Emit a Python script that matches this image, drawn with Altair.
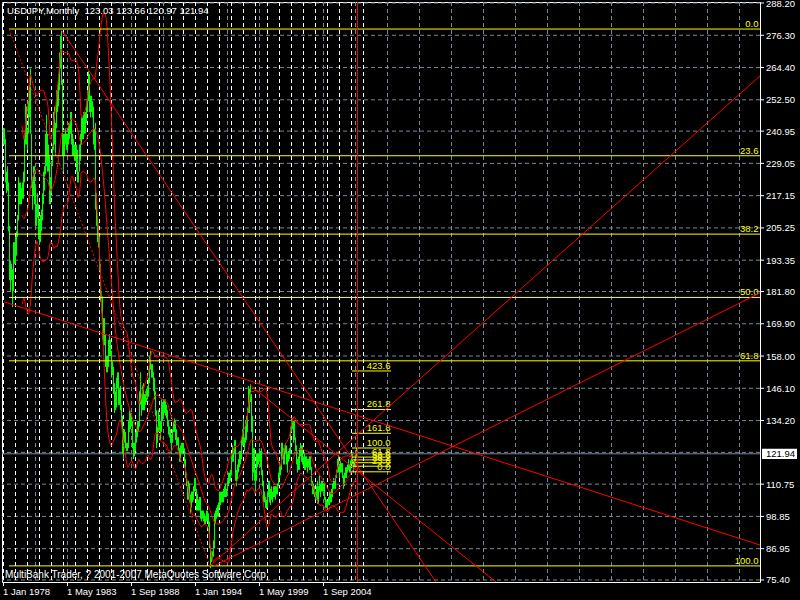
import altair as alt
import pandas as pd

# ---------------------------------------------------------------------------
# USDJPY monthly bars, Jan 1978 .. Jul 2007 (one value per month, by year)
# ---------------------------------------------------------------------------
high = [
    242, 242, 238, 226, 228, 222, 206, 193, 192, 190, 200, 200,          # 1978
    202, 204, 210, 224, 222, 222, 220, 222, 226, 240, 251, 250,          # 1979
    242, 252, 258, 264, 240, 224, 228, 228, 220, 214, 218, 214,          # 1980
    208, 210, 212, 218, 226, 228, 240, 247, 240, 236, 232, 224,          # 1981
    230, 236, 248, 250, 244, 256, 258, 262, 270, 276, 278, 260,          # 1982
    240, 240, 242, 240, 240, 244, 244, 248, 248, 240, 238, 236,          # 1983
    236, 236, 234, 226, 236, 240, 246, 246, 248, 248, 248, 252,          # 1984
    256, 263, 262, 254, 254, 252, 250, 242, 244, 218, 210, 206,          # 1985
    202, 192, 182, 180, 172, 172, 166, 158, 158, 164, 166, 164,          # 1986
    160, 156, 154, 148, 145, 150, 152, 152, 146, 147, 140, 136,          # 1987
    131, 131, 130, 126, 126, 134, 138, 137, 137, 134, 126, 126,          # 1988
    130, 131, 134, 134, 145, 152, 144, 147, 148, 144, 145, 146,          # 1989
    147, 150, 158, 160, 155, 155, 152, 150, 145, 138, 132, 138,          # 1990
    136, 134, 142, 141, 142, 142, 142, 140, 138, 134, 132, 131,          # 1991
    129, 131, 134, 135, 134, 131, 128, 128, 124, 125, 126, 126,          # 1992
    126, 124, 120, 115, 112, 112, 111, 107, 108, 108, 110, 113,          # 1993
    113, 109, 107, 105, 106, 106, 101, 101, 101, 100, 99, 101,           # 1994
    101, 100, 97, 87, 86, 86, 90, 100, 101, 102, 103, 104,               # 1995
    108, 108, 108, 108, 109, 110, 111, 109, 112, 115, 115, 116,          # 1996
    122, 125, 124, 127, 127, 116, 118, 120, 123, 123, 128, 131,          # 1997
    135, 128, 134, 136, 139, 147, 146, 147.6, 144, 136, 124, 124,        # 1998
    116, 122, 122, 122, 124, 123, 124, 116, 112, 108, 106, 105,          # 1999
    108, 112, 112, 109, 110, 108, 110, 110, 110, 110, 111, 115,          # 2000
    119, 118, 126, 126, 124, 125, 126, 125, 122, 123, 124, 132,          # 2001
    135, 135, 134, 134, 128, 125, 120, 121, 124, 126, 125, 125,          # 2002
    121, 122, 121, 121, 120, 120, 121, 121, 117, 112, 111, 110,          # 2003
    108, 110, 112, 110, 114, 111, 112, 112, 111, 111, 106, 105,          # 2004
    104.5, 106, 108, 108, 109, 111, 113, 112, 114, 116, 120, 121.4,      # 2005
    118, 120, 118.5, 118.5, 114, 115, 117, 117, 118, 120, 118, 119.5,    # 2006
    122, 122, 120, 120, 122, 124.1, 123.66,                              # 2007
]
low = [
    236, 236, 222, 218, 219, 204, 186, 182, 186, 176, 182, 192,          # 1978
    192, 195, 202, 208, 214, 214, 214, 216, 216, 222, 236, 236,          # 1979
    234, 240, 246, 240, 220, 212, 217, 214, 206, 206, 209, 201,          # 1980
    199, 200, 204, 208, 214, 219, 225, 228, 226, 226, 214, 214,          # 1981
    218, 228, 234, 236, 232, 242, 248, 250, 256, 264, 258, 232,          # 1982
    226, 232, 236, 234, 234, 236, 238, 240, 236, 232, 232, 230,          # 1983
    230, 226, 222, 222, 226, 230, 236, 238, 238, 240, 240, 244,          # 1984
    248, 252, 248, 246, 248, 246, 236, 234, 212, 206, 200, 198,          # 1985
    190, 178, 174, 164, 162, 162, 154, 152, 152, 154, 158, 158,          # 1986
    150, 151, 144, 137, 138, 139, 146, 140, 140, 138, 132, 122,          # 1987
    120, 126, 124, 123, 123, 124, 130, 131, 132, 124, 120, 121,          # 1988
    123, 126, 128, 130, 132, 140, 136, 138, 138, 138, 140, 141,          # 1989
    142, 143, 148, 153, 150, 150, 145, 142, 136, 124, 126, 130,          # 1990
    130, 127, 130, 134, 136, 137, 136, 135, 132, 129, 128, 126,          # 1991
    122, 126, 130, 130, 127, 125, 125, 123, 119, 119, 122, 122,          # 1992
    123, 117, 113, 110, 105, 105, 104, 100, 102, 104, 105, 108,          # 1993
    108, 101, 101, 101, 101, 98, 97, 98, 97, 96, 96, 97,                 # 1994
    97, 95, 87, 79.75, 82, 83, 84, 87, 96, 98, 99, 99,                   # 1995
    102, 103, 104, 104, 104, 106, 106, 106, 108, 110, 111, 112,          # 1996
    114, 119, 119, 122, 112, 110, 112, 115, 117, 118, 120, 125,          # 1997
    125, 123, 126, 127, 130, 137, 137, 141, 130, 112, 115, 112,          # 1998
    108, 112, 117, 118, 119, 117, 114, 110, 104, 104, 102, 101.5,        # 1999
    102, 106, 104, 103, 105, 104, 106, 106, 105, 107, 107, 110,          # 2000
    113, 114, 116, 120, 118, 118, 122, 118, 115, 119, 120, 122,          # 2001
    130, 131, 126, 127, 123, 118, 115, 116, 116, 121, 119, 118,          # 2002
    117, 116, 116, 117, 115, 117, 116, 116, 110, 107, 107, 106,          # 2003
    105, 105, 103.5, 103.5, 108, 106, 108, 108, 108, 105, 102, 102,      # 2004
    101.7, 103, 103, 104, 104, 106, 109, 109, 109, 113, 115, 115,        # 2005
    113, 115, 115, 113, 109, 110, 113, 113, 115, 116, 115, 115,          # 2006
    118, 118, 115, 117, 119, 121, 120.97,                                # 2007
]

# last bar quote shown in the header
last_quote = [123.03, 123.66, 120.97, 121.94]
symbol = "USDJPY,Monthly"
footer = "MultiBank Trader, ? 2001-2007 MetaQuotes Software Corp"

# price scale (right) and time scale (bottom, month index from Jan 1978)
price_ticks = [75.40, 86.95, 98.85, 110.75, 134.20, 146.10, 158.00, 169.90,
               181.80, 193.35, 205.25, 217.15, 229.05, 240.95, 252.50,
               264.40, 276.30, 288.20]
hidden_grid_price = [122.47]
time_ticks = [0, 64, 128, 192, 256, 320]
time_labels = ["1 Jan 1978", "1 May 1983", "1 Sep 1988",
               "1 Jan 1994", "1 May 1999", "1 Sep 2004"]
grid_months = list(range(0, 758, 32))
year_separators = list(range(0, 361, 12))

# Fibonacci retracement (1982 high -> 1995 low)
fib_high, fib_low = 278.6, 80.6
fib_start_month = 6
fib_levels = [0.0, 23.6, 38.2, 50.0, 61.8, 100.0]

# Fibonacci expansion near the last bar
exp_base, exp_range = 115.3, 8.78
exp_months = [349, 388]
exp_levels = [0.0, 23.6, 38.2, 50.0, 61.8, 100.0, 161.8, 261.8, 423.6]

# trend lines: name, start month, start price, end month, end price
trend_names = ["high82", "high98", "low78", "low95a", "low95b"]
trend_m1 = [59, 247, 1, 207, 211]
trend_p1 = [277.9, 147.3, 178.0, 80.6, 80.6]
trend_m2 = [433, 493, 757, 757, 757]
trend_p2 = [74.66, 74.66, 88.3, 261.3, 181.3]

marker_month = 354

# ---------------------------------------------------------------------------
BG = "black"
GRID = "#778899"
GREEN = "#00ff00"
RED = "#ff0000"
YELLOW = "#ffff00"
FONT = "Liberation Sans"
FS = 9.5
PLOT_W, PLOT_H = 758, 580

xs = alt.Scale(domain=[-1, 757], nice=False, zero=False)
ys = alt.Scale(domain=[74.66, 288.57], nice=False, zero=False)


def X(field, **kw):
    return alt.X(field, type="quantitative", scale=xs, axis=None, **kw)


def Y(field, **kw):
    return alt.Y(field, type="quantitative", scale=ys, axis=None, **kw)


bars = pd.DataFrame({"m": list(range(len(high))), "hi": high, "lo": low})

# grid
hgrid = alt.Chart(pd.DataFrame({"p": price_ticks + hidden_grid_price})).mark_rule(
    color=GRID, strokeDash=[4, 3], strokeWidth=1
).encode(y=Y("p"))

vgrid = alt.Chart(pd.DataFrame({"m": grid_months})).mark_rule(
    color=GRID, strokeDash=[4, 3], strokeWidth=1, xOffset=0.5
).encode(x=X("m"))

seps = alt.Chart(pd.DataFrame({"m": year_separators})).mark_rule(
    color="white", strokeDash=[4, 3], strokeWidth=1, xOffset=0.5
).encode(x=X("m"))

# price scale: ticks and labels on the right
ytick_df = pd.DataFrame({"p": price_ticks, "txt": [f"{v:.2f}" for v in price_ticks]})
yticks = alt.Chart(ytick_df).mark_rule(color="white", strokeWidth=1).encode(
    x=alt.value(PLOT_W), x2=alt.value(PLOT_W + 4), y=Y("p"))
ylabels = alt.Chart(ytick_df).mark_text(
    color="white", font=FONT, fontSize=FS, align="left", baseline="alphabetic", dy=3.5
).encode(x=alt.value(PLOT_W + 6), y=Y("p"), text="txt:N")

# time scale: ticks and labels at the bottom
xtick_df = pd.DataFrame({"m": time_ticks, "txt": time_labels})
xticks = alt.Chart(xtick_df).mark_rule(color="white", strokeWidth=1, xOffset=0.5).encode(
    x=X("m"), y=alt.value(PLOT_H), y2=alt.value(PLOT_H + 4))
xlabels = alt.Chart(xtick_df).mark_text(
    color="white", font=FONT, fontSize=FS, align="left", baseline="alphabetic"
).encode(x=X("m"), y=alt.value(PLOT_H + 13), text="txt:N")

price_line = alt.Chart(pd.DataFrame({"p": [last_quote[3]]})).mark_rule(
    color=GRID, strokeWidth=1
).encode(y=Y("p"))

price_bars = alt.Chart(bars).mark_rule(
    color=GREEN, strokeWidth=1, xOffset=0.5
).encode(x=X("m"), y=Y("lo"), y2="hi")

# Bollinger bands (20, 2) on the median price
bands = alt.Chart(bars).transform_calculate(
    mid="(datum.hi + datum.lo) / 2"
).transform_window(
    ma="mean(mid)", sd="stdevp(mid)", frame=[-19, 0], sort=[alt.SortField("m")]
).transform_filter("datum.m >= 19").transform_calculate(
    upper="datum.ma + 2 * datum.sd", lower="datum.ma - 2 * datum.sd"
).transform_fold(["upper", "ma", "lower"], as_=["band", "p"]).mark_line(
    color=RED, strokeWidth=1, clip=True
).encode(x=X("m"), y=Y("p"), detail="band:N")

fib_df = pd.DataFrame({
    "lvl": fib_levels,
    "p": [fib_high - l / 100 * (fib_high - fib_low) for l in fib_levels],
    "m1": fib_start_month,
    "m2": 757,
    "mt": 755.5,
    "txt": [f"{l:.1f}" for l in fib_levels],
})
fib_lines = alt.Chart(fib_df).mark_rule(color=YELLOW, strokeWidth=1).encode(
    x=X("m1"), x2="m2", y=Y("p"))
fib_text = alt.Chart(fib_df).mark_text(
    color=YELLOW, font=FONT, fontSize=FS, align="right", baseline="alphabetic", dy=-2
).encode(x=X("mt"), y=Y("p"), text="txt:N")

exp_df = pd.DataFrame({
    "lvl": exp_levels,
    "p": [exp_base + l / 100 * exp_range for l in exp_levels],
    "m1": exp_months[0],
    "m2": exp_months[1],
    "mt": exp_months[1] - 0.5,
    "txt": [f"{l:.1f}" for l in exp_levels],
})
exp_lines = alt.Chart(exp_df).mark_rule(color=YELLOW, strokeWidth=1).encode(
    x=X("m1"), x2="m2", y=Y("p"))
exp_text = alt.Chart(exp_df).mark_text(
    color=YELLOW, font=FONT, fontSize=FS, align="right", baseline="alphabetic", dy=-2
).encode(x=X("mt"), y=Y("p"), text="txt:N")

trend_df = pd.DataFrame({
    "name": trend_names * 2,
    "m": trend_m1 + trend_m2,
    "p": trend_p1 + trend_p2,
})
trends = alt.Chart(trend_df).mark_line(color=RED, strokeWidth=1, clip=True).encode(
    x=X("m"), y=Y("p"), detail="name:N")

fib_diag = alt.Chart(pd.DataFrame({
    "m": [fib_start_month, 207], "p": [fib_high, fib_low]
})).mark_line(color=RED, strokeWidth=1, strokeDash=[2, 2], clip=True).encode(
    x=X("m"), y=Y("p"))

marker = alt.Chart(pd.DataFrame({"m": [marker_month]})).mark_rule(
    color=RED, strokeWidth=1, xOffset=0.5
).encode(x=X("m"))

quote_df = pd.DataFrame({"p": [last_quote[3]], "txt": [f"{last_quote[3]:.2f}"]})
quote_box = alt.Chart(quote_df).transform_calculate(
    lo="datum.p - 1.9", hi="datum.p + 1.9"
).mark_rect(color="white").encode(
    x=alt.value(PLOT_W + 2), x2=alt.value(PLOT_W + 37), y=Y("lo"), y2="hi")
quote_text = alt.Chart(quote_df).mark_text(
    color="black", font=FONT, fontSize=FS, align="left", baseline="alphabetic", dy=3.5
).encode(x=alt.value(PLOT_W + 6), y=Y("p"), text="txt:N")

header = alt.Chart(pd.DataFrame({
    "t": [symbol + " \u00a0" + " ".join(f"{v:.2f}" for v in last_quote)]
})).mark_text(
    color="white", font=FONT, fontSize=9.5, align="left", baseline="alphabetic"
).encode(x=alt.value(5), y=alt.value(12), text="t:N")

foot = alt.Chart(pd.DataFrame({"t": [footer]})).mark_text(
    color="white", font=FONT, fontSize=10, align="left", baseline="alphabetic"
).encode(x=alt.value(3), y=alt.value(576), text="t:N")

chart = alt.layer(
    hgrid, vgrid, seps, price_line, price_bars, bands,
    fib_lines, fib_text, exp_lines, exp_text, trends, fib_diag, marker,
    yticks, ylabels, xticks, xlabels, quote_box, quote_text, header, foot,
).properties(
    width=PLOT_W, height=PLOT_H, background=BG,
    padding={"left": 2, "top": 2, "right": 40, "bottom": 18},
    autosize=alt.AutoSizeParams(type="none"),
).configure_view(stroke="white", strokeWidth=1, fill=BG)

chart.save("out.html", embed_options={"renderer": "svg", "actions": False})
